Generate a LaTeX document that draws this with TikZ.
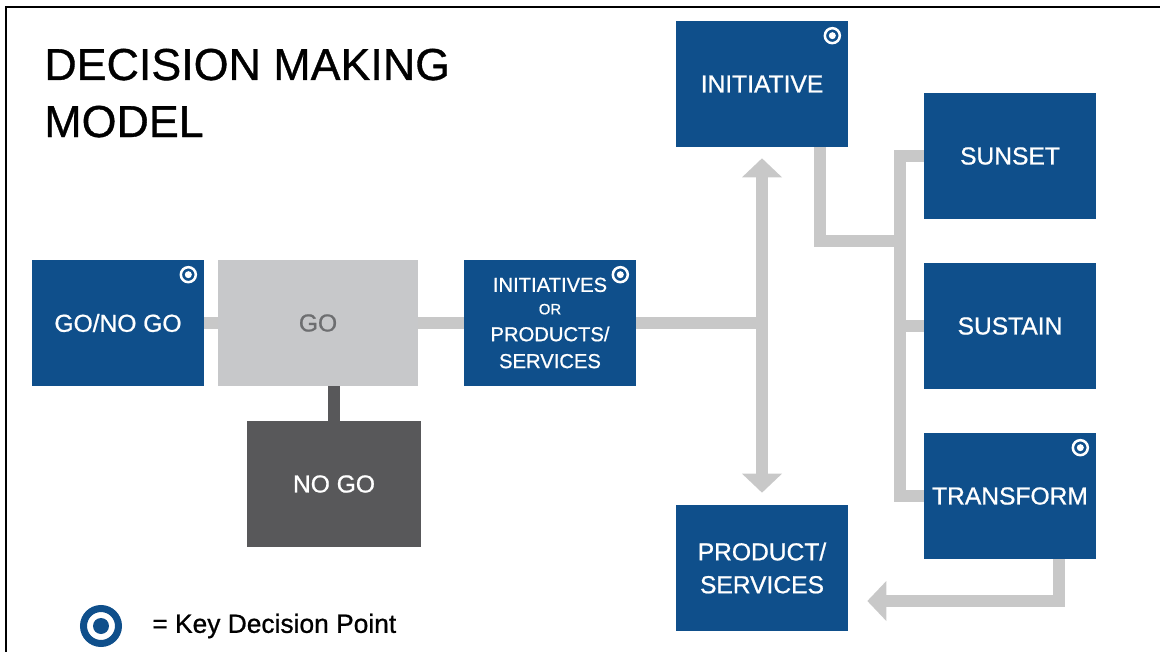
\documentclass[tikz,border=0pt]{standalone}
\usepackage{fontspec}
\setmainfont{Liberation Sans}
\newfontfamily\heavyfont{Liberation Sans}[FakeBold=0.8]
\usepackage{xcolor}
\usetikzlibrary{arrows.meta,calc,positioning}

\definecolor{dmblue}{HTML}{0F4F8B}
\definecolor{bargray}{HTML}{C8C8C8}
\definecolor{gogray}{HTML}{C7C8CA}
\definecolor{gotext}{HTML}{6D6E70}
\definecolor{nogogray}{HTML}{58585A}

\begin{document}
\begin{tikzpicture}[x=0.02cm, y=-0.02cm,
    box/.style={rectangle, fill=dmblue, text=white, minimum width=3.44cm, minimum height=2.52cm,
        inner sep=0pt, align=center, font=\heavyfont\fontsize{14}{18.7}\selectfont},
    bar/.style={draw=bargray, line width=0.24cm},
    bararrow/.style={bar, -{Triangle[width=0.8cm, length=0.38cm, line width=0pt]}},
    keymark/.pic={
        \draw[white, line width=0.05cm] (0,0) circle[radius=0.15cm];
        \fill[white] (0,0) circle[radius=0.07cm];
    }]
    \useasboundingbox (0,0) rectangle (1160,652);
    \draw[line width=0.04cm] (6,652) -- (6,7) -- (1160,7);

    % title
    \node (title1) [anchor=base west, inner sep=0pt, font=\heavyfont\fontsize{25.5}{30}\selectfont] at (44,80) {DECISION MAKING};
    \node (title2) [anchor=base west, inner sep=0pt, font=\heavyfont\fontsize{25.5}{30}\selectfont] at (44,137) {MODEL};

    % boxes
    \node (gonogo) [box] at (118,323) {GO/NO GO};
    \node (go) [box, fill=gogray, text=gotext, minimum width=4cm] at (318,323) {GO};
    \node (nogo) [box, fill=nogogray, minimum width=3.5cm] at (334,484) {NO GO};
    \node (inits) [box, font=\heavyfont\fontsize{11.5}{15.3}\selectfont] at (550,323)
        {INITIATIVES\\[-2.5pt]{\fontsize{8.5}{10}\selectfont OR}\\PRODUCTS/\\SERVICES};
    \node (initiative) [box] at (762,84) {INITIATIVE};
    \node (sunset) [box] at (1010,156) {SUNSET};
    \node (sustain) [box] at (1010,326) {SUSTAIN};
    \node (transform) [box] at (1010,496) {TRANSFORM};
    \node (product) [box] at (762,568) {PRODUCT/\\SERVICES};

    % connectors
    \draw[bar] (gonogo) -- (go);
    \draw[bar] (go) -- (inits);
    \draw[draw=nogogray, line width=0.24cm] (nogo.north) -- (nogo.north |- go.south);

    \coordinate (hub) at (inits.east -| initiative.south);
    \draw[bar] (inits.east) -- (hub);
    \draw[bararrow] ($(hub)+(0,6)$) -- ($(initiative.south)+(0,11)$);
    \draw[bararrow] ($(hub)+(0,-6)$) -- ($(product.north)+(0,-12)$);

    \coordinate (fork) at (900,241);
    \draw[bar, line join=miter] ($(initiative.south)+(58,0)$) |- (fork);
    \draw[bar, line join=miter] (sunset.west) -- ++(-24,0) |- (transform.west);
    \draw[bar] (sustain.west) -- ++(-24,0);
    \draw[bararrow, line join=miter] ($(transform.south)+(49,0)$) |- ($(product.east)+(19,33)$);

    % key decision points
    \foreach \b in {gonogo, inits, initiative, transform}
        \pic at ($(\b.north east)+(-16,15)$) {keymark};

    % legend
    \node (keyicon) [circle, draw=dmblue, line width=0.14cm, minimum size=0.7cm, inner sep=0pt] at (101,626) {};
    \fill[dmblue] (keyicon.center) circle[radius=0.16cm];
    \node (keytext) [right=0.6cm of keyicon, inner sep=0pt, font=\heavyfont\fontsize{15}{18}\selectfont] {= Key Decision Point};
\end{tikzpicture}
\end{document}
